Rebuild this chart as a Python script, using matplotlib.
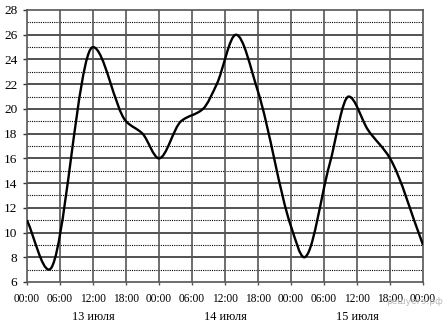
import numpy as np
import matplotlib.pyplot as plt
from matplotlib.path import Path
from matplotlib.patches import PathPatch

plt.rcParams['font.family'] = ['Liberation Serif', 'DejaVu Serif']

# часы от 00:00 13 июля и температура
hours = [0, 4, 12, 18, 21, 24, 28, 32, 34.5, 38, 42, 48, 50.4, 55, 58.5, 62, 66, 72]
temps = [11, 7, 25, 19, 18, 16, 19, 20, 22, 26, 21.4, 10.5, 8, 15.5, 21, 18.3, 16, 9]

tick_labels = ['00:00', '06:00', '12:00', '18:00'] * 3 + ['00:00']
days = ['13 июля', '14 июля', '15 июля']


# гладкая линия через точки (монотонные кривые Безье)
def smooth_path(x, y):
    x = np.asarray(x, float)
    y = np.asarray(y, float)
    h = np.diff(x)
    d = np.diff(y) / h
    m = np.zeros_like(y)
    for i in range(1, len(y) - 1):
        if d[i - 1] * d[i] > 0:
            w1 = 2 * h[i] + h[i - 1]
            w2 = h[i] + 2 * h[i - 1]
            m[i] = (w1 + w2) / (w1 / d[i - 1] + w2 / d[i])
    m[0] = d[0]
    m[-1] = d[-1]
    verts = [(x[0], y[0])]
    codes = [Path.MOVETO]
    for i in range(len(h)):
        verts += [(x[i] + h[i] / 3, y[i] + m[i] * h[i] / 3),
                  (x[i + 1] - h[i] / 3, y[i + 1] - m[i + 1] * h[i] / 3),
                  (x[i + 1], y[i + 1])]
        codes += [Path.CURVE4] * 3
    return Path(verts, codes)


fig = plt.figure(figsize=(4.43, 3.28), dpi=100)
ax = fig.add_axes([27 / 443, 46 / 328, 396 / 443, 272 / 328])

ax.set_xlim(0, 72)
ax.set_ylim(6, 28)

# сетка
for v in range(7, 28, 2):
    ax.axhline(v, color='black', lw=0.8, ls=(0, (1, 1)), zorder=1)
for v in range(8, 28, 2):
    ax.axhline(v, color='#222222', lw=1.1, zorder=1)
for t in range(6, 72, 6):
    ax.axvline(t, color='#555555', lw=1.2, zorder=1)

ax.add_patch(PathPatch(smooth_path(hours, temps), fill=False,
                       color='black', lw=1.7, zorder=3))

ax.set_xticks(range(0, 73, 6))
ax.set_xticklabels(tick_labels, fontsize=8.3)
ax.set_yticks(range(6, 29, 2))
ax.tick_params(axis='y', labelsize=9.5, length=3, width=1, color='#333333', pad=4)
ax.tick_params(axis='x', length=2, width=1, color='#555555', pad=6)

for s in ax.spines.values():
    s.set_color('#555555')
    s.set_linewidth(1.2)

for i, d in enumerate(days):
    ax.text(12 + 24 * i, -0.129, d, transform=ax.get_xaxis_transform(),
            ha='center', va='center', fontsize=8.8)

fig.text(0.999, 0.08, 'решуегэ.рф', ha='right', va='center',
         fontsize=6.5, color='#bbbbbb', family=['DejaVu Sans'], zorder=0)

fig.savefig('out.png', dpi=100)
